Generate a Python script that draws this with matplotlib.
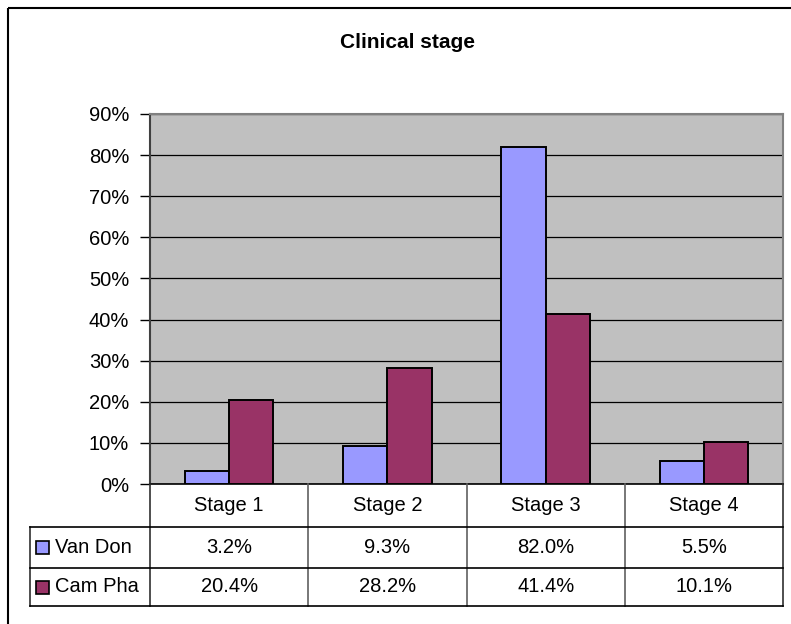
import matplotlib
matplotlib.use("Agg")
import matplotlib.pyplot as plt
from matplotlib.patches import Rectangle
from matplotlib.ticker import FuncFormatter
from matplotlib.transforms import blended_transform_factory

plt.rcParams['font.family'] = ['Liberation Sans', 'DejaVu Sans']

stages = ['Stage 1', 'Stage 2', 'Stage 3', 'Stage 4']
series = ['Van Don', 'Cam Pha']
van_don = [3.2, 9.3, 82.0, 5.5]
cam_pha = [20.4, 28.2, 41.4, 10.1]
colors = ['#9999FF', '#993366']

W, H = 791, 624
FS = 14.5
fig = plt.figure(figsize=(W / 100, H / 100), dpi=100)

# plot area in pixels
L, R, T, B = 150, 783, 114, 484
ax = fig.add_axes([L / W, 1 - B / H, (R - L) / W, (B - T) / H])
ax.set_facecolor('#C0C0C0')

x = list(range(len(stages)))
bw = 0.28
ax.bar([i - bw / 2 for i in x], [v / 100 for v in van_don], bw,
       color=colors[0], edgecolor='black', linewidth=1.4, zorder=3)
ax.bar([i + bw / 2 for i in x], [v / 100 for v in cam_pha], bw,
       color=colors[1], edgecolor='black', linewidth=1.4, zorder=3)

ax.set_xlim(-0.5, len(stages) - 0.5)
ax.set_ylim(0, 0.9)
ax.set_yticks([i / 10 for i in range(10)])
ax.yaxis.set_major_formatter(FuncFormatter(lambda v, p: '%d%%' % round(v * 100)))
ax.set_xticks([])
ax.tick_params(axis='y', direction='out', length=7, width=1, color='black',
               labelsize=FS, pad=8)
ax.grid(axis='y', color='black', linewidth=0.9, zorder=1)
for s in ['top', 'right']:
    ax.spines[s].set_color('#808080')
    ax.spines[s].set_linewidth(1.5)
ax.spines['left'].set_color('#404040')
ax.spines['left'].set_linewidth(1.5)
ax.spines['bottom'].set_color('black')
ax.spines['bottom'].set_linewidth(1.2)

# overlay in pixel units for the frame and the data table
ov = fig.add_axes([0, 0, 1, 1], zorder=-1)
ov.set_xlim(0, W)
ov.set_ylim(H, 0)
ov.axis('off')
ov.patch.set_alpha(0)

ov.add_patch(Rectangle((8, 8), W + 20, H + 20, fill=False,
                       edgecolor='black', linewidth=1.5))
ov.text(407, 42, 'Clinical stage', ha='center', va='center',
        fontsize=15, fontweight='bold')

tab = fig.add_axes([0, 0, 1, 1], zorder=2)
tab.set_xlim(0, W)
tab.set_ylim(H, 0)
tab.axis('off')
tab.patch.set_alpha(0)
tr = blended_transform_factory(ax.transData, tab.transData)

row_top, row1, row2, row_bot = 484, 527, 568, 606
key_left = 30

# column dividers
for i in range(len(stages) + 1):
    tab.plot([i - 0.5, i - 0.5], [row_top, row_bot], transform=tr,
             color='#606060' if 0 < i < len(stages) else '#303030',
             linewidth=1.2)
tab.plot([key_left, key_left], [row1, row_bot], color='#303030', linewidth=1.2)
for y in (row1, row2, row_bot):
    tab.plot([key_left, R], [y, y], color='black', linewidth=1.2)

for i, s in enumerate(stages):
    tab.text(i, (row_top + row1) / 2, s, transform=tr, ha='center',
             va='center', fontsize=FS)
    tab.text(i, (row1 + row2) / 2, '%.1f%%' % van_don[i], transform=tr,
             ha='center', va='center', fontsize=FS)
    tab.text(i, (row2 + row_bot) / 2, '%.1f%%' % cam_pha[i], transform=tr,
             ha='center', va='center', fontsize=FS)

for k, (name, c) in enumerate(zip(series, colors)):
    yc = (row1 + row2) / 2 if k == 0 else (row2 + row_bot) / 2
    tab.add_patch(Rectangle((36, yc - 6.5), 13, 13, facecolor=c,
                            edgecolor='black', linewidth=1.2))
    tab.text(55, yc, name, ha='left', va='center', fontsize=FS)

fig.savefig('out.png', dpi=100)
